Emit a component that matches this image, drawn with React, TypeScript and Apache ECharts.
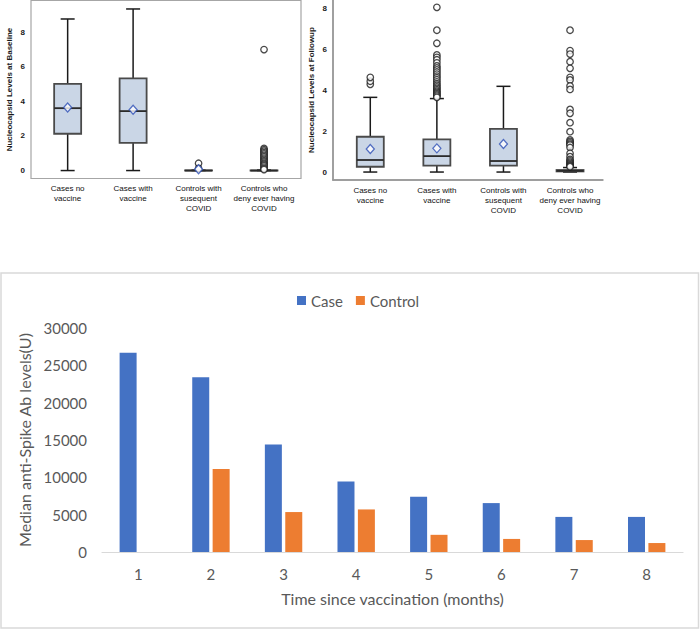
import React, { useEffect, useRef } from "react";
import * as echarts from "echarts";

// ---------- data ----------
const boxCategories = [
  "Cases no\nvaccine",
  "Cases with\nvaccine",
  "Controls with\nsusequent\nCOVID",
  "Controls who\ndeny ever having\nCOVID",
];

// [min, q1, median, q3, max]
const baselineStats = [
  [0, 2.13, 3.61, 5.02, 8.77],
  [0, 1.6, 3.44, 5.33, 9.35],
  [0, 0, 0, 0.01, 0.02],
  [0, 0, 0, 0.01, 0.03],
];
const baselineMeans = [3.65, 3.52, 0.08, null];
const baselineOutliers = [
  [2, 0.42], [2, 0.12],
  [3, 7.0], [3, 1.28], [3, 1.2], [3, 1.12], [3, 1.04], [3, 0.96], [3, 0.88],
  [3, 0.8], [3, 0.72], [3, 0.65], [3, 0.57], [3, 0.5], [3, 0.42], [3, 0.35],
  [3, 0.28], [3, 0.2], [3, 0.12], [3, 0.06],
];

const followupStats = [
  [0, 0.26, 0.59, 1.73, 3.66],
  [0, 0.31, 0.78, 1.6, 3.6],
  [0, 0.31, 0.54, 2.12, 4.2],
  [0, 0.03, 0.06, 0.1, 0.22],
];
const followupMeans = [1.13, 1.16, 1.37, null];
const followupOutliers = [
  [0, 4.3], [0, 4.45], [0, 4.64],
  [1, 8.07], [1, 6.95], [1, 6.31], [1, 5.74], [1, 5.62], [1, 5.5], [1, 5.35],
  [1, 5.2], [1, 5.1], [1, 5.0], [1, 4.9], [1, 4.8], [1, 4.7], [1, 4.62],
  [1, 4.52], [1, 4.42], [1, 4.33], [1, 4.25], [1, 4.17], [1, 4.1], [1, 4.03],
  [1, 3.96], [1, 3.9], [1, 3.84], [1, 3.78], [1, 3.72], [1, 3.66],
  [3, 6.95], [3, 5.95], [3, 5.78], [3, 5.41], [3, 5.08], [3, 4.64], [3, 4.51],
  [3, 4.22], [3, 4.05], [3, 3.07], [3, 2.88], [3, 2.42], [3, 1.98], [3, 1.57],
  [3, 1.5], [3, 1.43], [3, 1.37], [3, 1.32], [3, 1.2], [3, 0.92], [3, 0.75],
  [3, 0.62], [3, 0.55], [3, 0.48], [3, 0.42], [3, 0.36], [3, 0.31], [3, 0.26],
];

const months = ["1", "2", "3", "4", "5", "6", "7", "8"];
const caseValues = [26700, 23400, 14400, 9450, 7400, 6550, 4700, 4700];
const controlValues = [null, 11100, 5350, 5700, 2300, 1750, 1600, 1200];

// axis ranges of the two box panels
const baseX = [-0.56, 3.565];
const baseY = [-0.46, 9.84];
const followX = [-0.56, 3.495];
const followY = [-0.39, 8.43];

// ---------- helpers ----------
const boxFont = "'Liberation Sans', Arial, sans-serif";
const xlFont = "Lato, 'Open Sans', sans-serif";

function renderBox(params: any, api: any) {
  const x = api.value(0);
  const pMin = api.coord([x, api.value(1)]);
  const pQ1 = api.coord([x, api.value(2)]);
  const pMed = api.coord([x, api.value(3)]);
  const pQ3 = api.coord([x, api.value(4)]);
  const pMax = api.coord([x, api.value(5)]);
  const cx = pMed[0];
  const hw = 13.5;
  const cw = 7;
  const line = "#1a1a1a";
  return {
    type: "group",
    children: [
      { type: "line", shape: { x1: cx, y1: pMax[1], x2: cx, y2: pQ3[1] }, style: { stroke: line, lineWidth: 1.5 } },
      { type: "line", shape: { x1: cx, y1: pQ1[1], x2: cx, y2: pMin[1] }, style: { stroke: line, lineWidth: 1.5 } },
      { type: "line", shape: { x1: cx - cw, y1: pMax[1], x2: cx + cw, y2: pMax[1] }, style: { stroke: line, lineWidth: 1.5 } },
      { type: "line", shape: { x1: cx - cw, y1: pMin[1], x2: cx + cw, y2: pMin[1] }, style: { stroke: line, lineWidth: 1.5 } },
      {
        type: "rect",
        shape: { x: cx - hw, y: pQ3[1], width: hw * 2, height: pQ1[1] - pQ3[1] },
        style: { fill: "#cad6e6", stroke: "#4a4a4a", lineWidth: 1.8 },
      },
      { type: "line", shape: { x1: cx - hw, y1: pMed[1], x2: cx + hw, y2: pMed[1] }, style: { stroke: "#2a2a2a", lineWidth: 1.8 } },
    ],
  };
}

function boxData(stats: number[][]) {
  return stats.map((s, i) => [i, ...s]);
}
function meanData(means: (number | null)[]) {
  return means.map((m, i) => (m === null ? null : [i, m])).filter((d) => d !== null);
}

export default function App() {
  const ref = useRef<HTMLDivElement>(null);
  useEffect(() => {
    if (!ref.current) return;
    const chart = echarts.init(ref.current, null, { renderer: "svg" });
    const catLabel = {
      customValues: [0, 1, 2, 3],
      formatter: (v: number) => boxCategories[Math.round(v)] || "",
      fontFamily: boxFont,
      fontSize: 8,
      color: "#111",
      lineHeight: 10,
      interval: 0,
    };
    const yLab = (margin: number) => ({
      customValues: [0, 2, 4, 6, 8],
      fontFamily: boxFont,
      fontSize: 8,
      fontWeight: "bold" as const,
      color: "#1a1a1a",
      margin,
    });
    const axisGray = { show: true, onZero: false, lineStyle: { color: "#8f8f8f", width: 1.5 } };
    const option: any = {
      animation: false,
      backgroundColor: "#fff",
      grid: [
        { left: 31, top: 0.5, width: 270, height: 178, show: true, borderColor: "#a6a6a6", borderWidth: 1.2, backgroundColor: "transparent" },
        { left: 333, top: 0, width: 270, height: 180 },
        { left: 102, top: 328, width: 581, height: 224 },
      ],
      legend: {
        data: ["Case", "Control"],
        left: 292,
        top: 288,
        itemWidth: 9,
        itemHeight: 9,
        itemGap: 13,
        icon: "rect",
        textStyle: { fontFamily: xlFont, fontSize: 15, color: "#595959" },
      },
      xAxis: [
        {
          gridIndex: 0, type: "value", min: baseX[0], max: baseX[1],
          axisLine: { show: false, onZero: false }, axisTick: { show: false }, splitLine: { show: false },
          axisLabel: { ...catLabel, margin: 5 },
        },
        {
          gridIndex: 1, type: "value", min: followX[0], max: followX[1], position: "bottom",
          axisLine: axisGray,
          axisTick: { show: false }, splitLine: { show: false },
          axisLabel: { ...catLabel, margin: 5 },
        },
        {
          gridIndex: 2, type: "category", data: months,
          axisLine: { show: true, lineStyle: { color: "#d9d9d9", width: 1.2 } },
          axisTick: { show: false },
          axisLabel: { fontFamily: xlFont, fontSize: 15, color: "#595959", margin: 14 },
          name: "Time since vaccination (months)",
          nameLocation: "middle",
          nameGap: 38,
          nameTextStyle: { fontFamily: xlFont, fontSize: 16, color: "#595959" },
        },
      ],
      yAxis: [
        {
          gridIndex: 0, type: "value", min: baseY[0], max: baseY[1],
          axisLine: { show: false, onZero: false }, axisTick: { show: false }, splitLine: { show: false },
          axisLabel: yLab(6),
          name: "Nucleocapsid Levels at Baseline",
          nameLocation: "middle",
          nameGap: 18,
          nameTextStyle: { fontFamily: boxFont, fontSize: 8, fontWeight: "bold", color: "#1a1a1a" },
        },
        {
          gridIndex: 1, type: "value", min: followY[0], max: followY[1], position: "left",
          axisLine: axisGray,
          axisTick: { show: false }, splitLine: { show: false },
          axisLabel: yLab(6),
          name: "Nucleocapsid Levels at Followup",
          nameLocation: "middle",
          nameGap: 18,
          nameTextStyle: { fontFamily: boxFont, fontSize: 8, fontWeight: "bold", color: "#1a1a1a" },
        },
        {
          gridIndex: 2, type: "value", min: 0, max: 30000, interval: 5000,
          axisLine: { show: false }, axisTick: { show: false }, splitLine: { show: false },
          axisLabel: { fontFamily: xlFont, fontSize: 15, color: "#595959", margin: 15, formatter: (v: number) => String(v) },
          name: "Median anti-Spike Ab levels(U)",
          nameLocation: "middle",
          nameGap: 63,
          nameTextStyle: { fontFamily: xlFont, fontSize: 16, color: "#595959" },
        },
      ],
      graphic: [
        {
          type: "rect",
          shape: { x: 1, y: 273, width: 697.5, height: 355 },
          style: { fill: "transparent", stroke: "#d9d9d9", lineWidth: 1.5 },
          silent: true,
          z: -1,
        },
      ],
      series: [
        { type: "custom", xAxisIndex: 0, yAxisIndex: 0, renderItem: renderBox, data: boxData(baselineStats), encode: { x: 0, y: [1, 2, 3, 4, 5] }, z: 2 },
        {
          type: "scatter", xAxisIndex: 0, yAxisIndex: 0, data: baselineOutliers, symbol: "circle", symbolSize: 6.5,
          itemStyle: { color: "#fff", borderColor: "#1a1a1a", borderWidth: 1.3 }, z: 3,
        },
        {
          type: "scatter", xAxisIndex: 0, yAxisIndex: 0, data: meanData(baselineMeans), symbol: "diamond", symbolSize: [8, 9],
          itemStyle: { color: "#fff", borderColor: "#2d4fb5", borderWidth: 1.3 }, z: 4,
        },
        { type: "custom", xAxisIndex: 1, yAxisIndex: 1, renderItem: renderBox, data: boxData(followupStats), encode: { x: 0, y: [1, 2, 3, 4, 5] }, z: 2 },
        {
          type: "scatter", xAxisIndex: 1, yAxisIndex: 1, data: followupOutliers, symbol: "circle", symbolSize: 6.5,
          itemStyle: { color: "#fff", borderColor: "#1a1a1a", borderWidth: 1.3 }, z: 3,
        },
        {
          type: "scatter", xAxisIndex: 1, yAxisIndex: 1, data: meanData(followupMeans), symbol: "diamond", symbolSize: [8, 9],
          itemStyle: { color: "#fff", borderColor: "#2d4fb5", borderWidth: 1.3 }, z: 4,
        },
        {
          name: "Case", type: "bar", xAxisIndex: 2, yAxisIndex: 2, data: caseValues,
          barWidth: 17, barGap: "20%", itemStyle: { color: "#4472c4" },
        },
        {
          name: "Control", type: "bar", xAxisIndex: 2, yAxisIndex: 2, data: controlValues,
          barWidth: 17, barGap: "20%", itemStyle: { color: "#ed7d31" },
        },
      ],
    };
    chart.setOption(option);
    // L-shaped axis frame of the follow-up panel, positioned through the panel's own scales
    const tl = chart.convertToPixel({ gridIndex: 1 } as any, [followX[0], followY[1]]) as number[];
    const bl = chart.convertToPixel({ gridIndex: 1 } as any, [followX[0], followY[0]]) as number[];
    const br = chart.convertToPixel({ gridIndex: 1 } as any, [followX[1], followY[0]]) as number[];
    if (tl && bl && br) {
      chart.setOption({
        graphic: [
          {
            type: "rect",
            shape: { x: 1, y: 273, width: 697.5, height: 355 },
            style: { fill: "transparent", stroke: "#d9d9d9", lineWidth: 1.5 },
            silent: true,
            z: -1,
          },
          {
            type: "polyline",
            shape: { points: [tl, bl, br] },
            style: { fill: null, stroke: "#9a9a9a", lineWidth: 1.3 },
            silent: true,
            z: 1,
          },
        ],
      });
    }
    return () => chart.dispose();
  }, []);
  return (
    <div
      ref={ref}
      style={{ position: "absolute", left: 0, top: 0, width: 700, height: 629, background: "#fff" }}
    />
  );
}
